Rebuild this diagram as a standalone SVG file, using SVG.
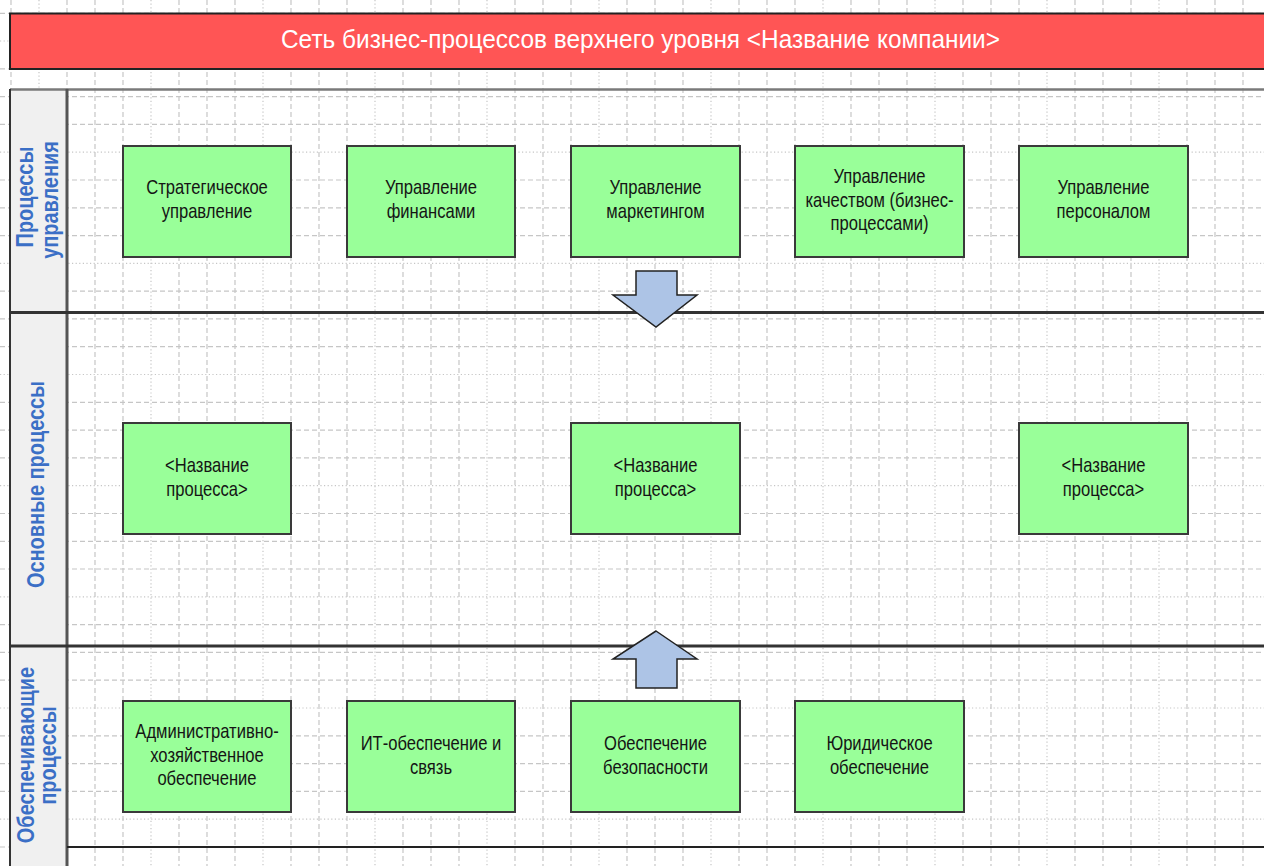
<svg xmlns="http://www.w3.org/2000/svg" width="1264" height="866" viewBox="0 0 1264 866">
  <style>
    .grid-dash { fill: none; stroke: #c6c6c6; stroke-width: 1.2; stroke-dasharray: 5 3; }
    .grid-dot { fill: none; stroke: #c6c6c6; stroke-width: 1.2; stroke-dasharray: 1.2 2.4; }
    .proc rect { fill: #99ff99; stroke: #3a3a3a; stroke-width: 2; }
    .proc text { font-family: "Liberation Sans Narrow", "Liberation Sans", Arial, sans-serif; font-size: 20px; fill: #151515; text-anchor: middle; }
    .lane-label text { font-family: "Liberation Sans Narrow", "Liberation Sans", Arial, sans-serif; font-size: 24px; font-weight: bold; fill: #3b6fc6; text-anchor: middle; }
    .lane-line { stroke: #333333; stroke-width: 3; fill: none; }
    .flow { fill: #adc4e6; stroke: #222222; stroke-width: 1.5; stroke-linejoin: miter; }
  </style>

  <rect x="0" y="0" width="1264" height="866" fill="#ffffff"/>

  <!-- background drawing grid -->
  <g id="grid">
    <path class="grid-dash" d="M11 0V866M67 0V866M95 0V866M123 0V866M179 0V866M207 0V866M235 0V866M291 0V866M319 0V866M347 0V866M403 0V866M431 0V866M459 0V866M515 0V866M543 0V866M571 0V866M627 0V866M655 0V866M683 0V866M739 0V866M767 0V866M795 0V866M851 0V866M879 0V866M907 0V866M963 0V866M991 0V866M1019 0V866M1075 0V866M1103 0V866M1131 0V866M1187 0V866M1215 0V866M1243 0V866"/>
    <path class="grid-dot" d="M39 0V866M151 0V866M263 0V866M375 0V866M487 0V866M599 0V866M711 0V866M823 0V866M935 0V866M1047 0V866M1159 0V866"/>
    <path class="grid-dash" d="M0 13.3H1264M0 68.8H1264M0 96.6H1264M0 124.4H1264M0 180H1264M0 207.8H1264M0 235.6H1264M0 291.2H1264M0 318.9H1264M0 346.7H1264M0 402.3H1264M0 430.1H1264M0 457.9H1264M0 513.5H1264M0 541.3H1264M0 569H1264M0 624.6H1264M0 652.4H1264M0 680.2H1264M0 735.8H1264M0 763.6H1264M0 791.4H1264M0 847H1264"/>
    <path class="grid-dot" d="M0 41H1264M0 152.2H1264M0 263.4H1264M0 374.5H1264M0 485.7H1264M0 596.8H1264M0 708H1264M0 819.2H1264"/>
  </g>

  <!-- title bar -->
  <g id="title">
    <rect x="10" y="13.5" width="1262" height="55.5" fill="#ff5555" stroke="#222222" stroke-width="2"/>
    <text x="640.5" y="48" font-family="'Liberation Sans Narrow', 'Liberation Sans', Arial, sans-serif" font-size="25" fill="#ffffff" text-anchor="middle" textLength="719" lengthAdjust="spacingAndGlyphs">Сеть бизнес-процессов верхнего уровня &lt;Название компании&gt;</text>
  </g>

  <!-- pool frame and swimlanes -->
  <g id="pool">
    <rect x="10" y="90" width="57" height="780" fill="#f0f0f0"/>
    <line x1="10" y1="89.5" x2="1264" y2="89.5" stroke="#7a7a7a" stroke-width="2.5"/>
    <line x1="10" y1="89" x2="10" y2="866" stroke="#333333" stroke-width="2"/>
    <line x1="67" y1="89" x2="67" y2="866" stroke="#555555" stroke-width="3"/>
    <line class="lane-line" x1="9" y1="312.5" x2="1264" y2="312.5"/>
    <line class="lane-line" x1="9" y1="646" x2="1264" y2="646"/>
    <line x1="67" y1="847" x2="1264" y2="847" stroke="#222222" stroke-width="2"/>
  </g>

  <!-- lane captions (condensed, reading bottom to top) -->
  <g id="lane-management" class="lane-label">
    <text transform="translate(33 197) rotate(-90) scale(0.83 1)">Процессы</text>
    <text transform="translate(57.5 200) rotate(-90) scale(0.83 1)">управления</text>
  </g>
  <g id="lane-core" class="lane-label">
    <text transform="translate(44 484.5) rotate(-90) scale(0.83 1)">Основные процессы</text>
  </g>
  <g id="lane-support" class="lane-label">
    <text transform="translate(33.5 755) rotate(-90) scale(0.83 1)">Обеспечивающие</text>
    <text transform="translate(56 755.5) rotate(-90) scale(0.83 1)">процессы</text>
  </g>

  <!-- management processes -->
  <g id="n-strategy" class="proc">
    <rect x="123" y="146" width="168" height="111"/>
    <text transform="matrix(0.83 0 0 1 207 194)">Стратегическое</text>
    <text transform="matrix(0.83 0 0 1 207 218)">управление</text>
  </g>
  <g id="n-finance" class="proc">
    <rect x="347" y="146" width="168" height="111"/>
    <text transform="matrix(0.83 0 0 1 431 194)">Управление</text>
    <text transform="matrix(0.83 0 0 1 431 218)">финансами</text>
  </g>
  <g id="n-marketing" class="proc">
    <rect x="571" y="146" width="169" height="111"/>
    <text transform="matrix(0.83 0 0 1 655.5 194)">Управление</text>
    <text transform="matrix(0.83 0 0 1 655.5 218)">маркетингом</text>
  </g>
  <g id="n-quality" class="proc">
    <rect x="795" y="146" width="169" height="111"/>
    <text transform="matrix(0.83 0 0 1 879.5 183)">Управление</text>
    <text transform="matrix(0.83 0 0 1 879.5 207)">качеством (бизнес-</text>
    <text transform="matrix(0.83 0 0 1 879.5 230)">процессами)</text>
  </g>
  <g id="n-personnel" class="proc">
    <rect x="1019" y="146" width="169" height="111"/>
    <text transform="matrix(0.83 0 0 1 1103.5 194)">Управление</text>
    <text transform="matrix(0.83 0 0 1 1103.5 218)">персоналом</text>
  </g>

  <!-- core processes -->
  <g id="n-core-1" class="proc">
    <rect x="123" y="423" width="168" height="111"/>
    <text transform="matrix(0.83 0 0 1 207 472)">&lt;Название</text>
    <text transform="matrix(0.83 0 0 1 207 496)">процесса&gt;</text>
  </g>
  <g id="n-core-2" class="proc">
    <rect x="571" y="423" width="169" height="111"/>
    <text transform="matrix(0.83 0 0 1 655.5 472)">&lt;Название</text>
    <text transform="matrix(0.83 0 0 1 655.5 496)">процесса&gt;</text>
  </g>
  <g id="n-core-3" class="proc">
    <rect x="1019" y="423" width="169" height="111"/>
    <text transform="matrix(0.83 0 0 1 1103.5 472)">&lt;Название</text>
    <text transform="matrix(0.83 0 0 1 1103.5 496)">процесса&gt;</text>
  </g>

  <!-- support processes -->
  <g id="n-admin" class="proc">
    <rect x="123" y="701" width="168" height="111"/>
    <text transform="matrix(0.83 0 0 1 207 738)">Административно-</text>
    <text transform="matrix(0.83 0 0 1 207 761.5)">хозяйственное</text>
    <text transform="matrix(0.83 0 0 1 207 785)">обеспечение</text>
  </g>
  <g id="n-it" class="proc">
    <rect x="347" y="701" width="168" height="111"/>
    <text transform="matrix(0.83 0 0 1 431 750)">ИТ-обеспечение и</text>
    <text transform="matrix(0.83 0 0 1 431 774)">связь</text>
  </g>
  <g id="n-security" class="proc">
    <rect x="571" y="701" width="169" height="111"/>
    <text transform="matrix(0.83 0 0 1 655.5 750)">Обеспечение</text>
    <text transform="matrix(0.83 0 0 1 655.5 774)">безопасности</text>
  </g>
  <g id="n-legal" class="proc">
    <rect x="795" y="701" width="169" height="111"/>
    <text transform="matrix(0.83 0 0 1 879.5 750)">Юридическое</text>
    <text transform="matrix(0.83 0 0 1 879.5 774)">обеспечение</text>
  </g>

  <!-- block arrows between lanes -->
  <g id="connectors">
    <polygon class="flow" points="636,271 677,271 677,295 697,295 656,327 613,295 636,295"/>
    <polygon class="flow" points="656,631 697,659 677,659 677,688 636,688 636,659 613,659"/>
  </g>
</svg>
